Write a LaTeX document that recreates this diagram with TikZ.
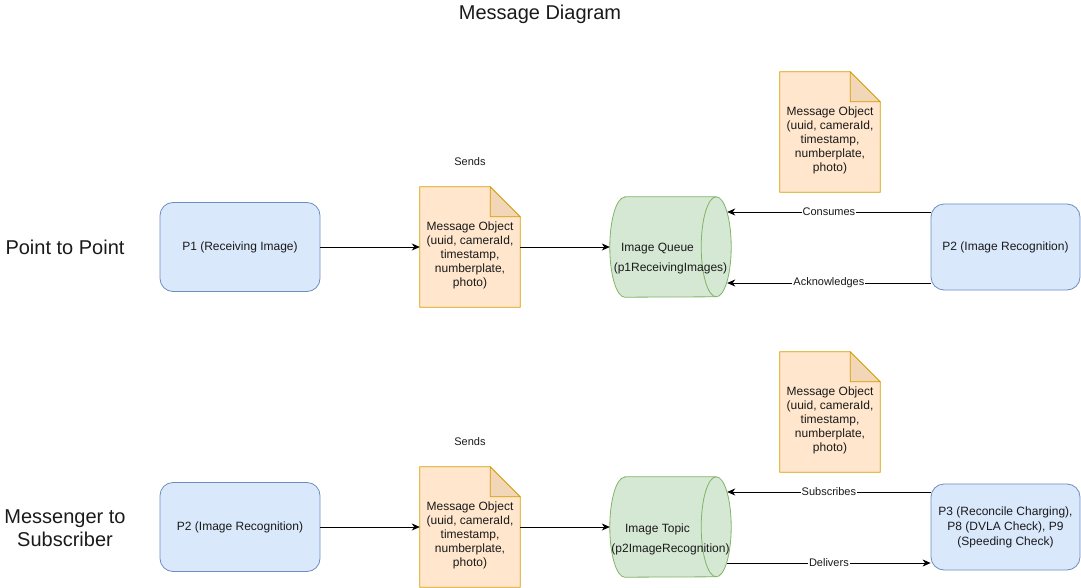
\documentclass[tikz,border=0pt]{standalone}
\usepackage{fontspec}
\setmainfont{Liberation Sans}
\usetikzlibrary{arrows.meta,backgrounds}
\definecolor{bfill}{HTML}{DAE8FC}
\definecolor{bline}{HTML}{6C8EBF}
\definecolor{ofill}{HTML}{FFE6CC}
\definecolor{oline}{HTML}{D79B00}
\definecolor{ofold}{HTML}{F2D6B8}
\definecolor{gfill}{HTML}{D5E8D4}
\definecolor{gline}{HTML}{82B366}
\definecolor{txt}{HTML}{1A1A1A}
\begin{document}
\begin{tikzpicture}[x=1pt,y=-1pt,
  every node/.style={text=txt},
  proc/.style={draw=bline, fill=bfill, rounded corners=13pt, minimum width=160pt, minimum height=89pt,
    align=center, inner sep=0pt, line width=0.8pt, font=\fontsize{12}{15}\selectfont},
  notebox/.style={minimum width=100pt, minimum height=120pt, inner sep=0pt},
  notetext/.style={align=center, inner sep=0pt, font=\fontsize{12}{14}\selectfont},
  cylbox/.style={minimum width=121pt, minimum height=100pt, inner sep=0pt, align=center,
    font=\fontsize{12}{14}\selectfont},
  arr/.style={line width=0.8pt, -{Stealth[length=8pt,width=7pt,inset=2.5pt]}},
  elabel/.style={fill=white, inner sep=1pt, font=\fontsize{11}{13}\selectfont},
  big/.style={align=center, font=\fontsize{20}{23}\selectfont},
  small/.style={font=\fontsize{11}{13}\selectfont}
]
\useasboundingbox (0,0) rectangle (1081,588);

\newcommand\drawnote[1]{%
  \filldraw[fill=ofill, draw=oline, line width=0.8pt] (#1.north west) -- ([xshift=-30pt]#1.north east)
    -- ([yshift=-30pt]#1.north east) -- (#1.south east) -- (#1.south west) -- cycle;
  \filldraw[fill=ofold, draw=oline, line width=0.8pt] ([xshift=-30pt]#1.north east)
    -- ([xshift=-30pt,yshift=-30pt]#1.north east) -- ([yshift=-30pt]#1.north east) -- cycle;}
\newcommand\drawcyl[1]{%
  \filldraw[fill=gfill, draw=gline, line width=0.8pt] ([xshift=15pt]#1.north west) -- ([xshift=-15pt]#1.north east)
    arc[start angle=-90, end angle=90, x radius=15, y radius=50]
    -- ([xshift=15pt]#1.south west)
    arc[start angle=90, end angle=270, x radius=15, y radius=50] -- cycle;
  \draw[gline, line width=0.8pt] ([xshift=-15pt]#1.north east)
    arc[start angle=-90, end angle=-270, x radius=15, y radius=50];}

% title and row labels
\node[font=\fontsize{20}{23}\selectfont] (title) at (540,14) {Message Diagram};
\node[big] (lab1) at (65,247) {Point to Point};
\node[big] (lab2) at (65,528) {Messenger to\\Subscriber};

% ---------- row 1 ----------
\node[proc] (p1) at (240,247) {P1 (Receiving Image)};
\node[notebox] (n1) at (470,247) {};
\node[cylbox] (c1) at (670.5,247) {};
\node[proc, minimum width=149pt, minimum height=86pt] (p2) at (1005.5,247) {P2 (Image Recognition)};
\node[notebox] (n2) at (830,132) {};
\node[small] (s1) at (470,162) {Sends};

\begin{scope}[on background layer]
  \drawnote{n1}
  \drawnote{n2}
  \drawcyl{c1}
\end{scope}
\node[notetext] (t1) at ([yshift=-8pt]n1.center) {Message Object\\(uuid, cameraId,\\timestamp,\\numberplate,\\photo)};
\node[notetext] (t2) at ([yshift=-8pt]n2.center) {Message Object\\(uuid, cameraId,\\timestamp,\\numberplate,\\photo)};
\node[cylbox, minimum width=0pt, minimum height=0pt] (ct1) at ([yshift=-12pt]c1.center) {Image Queue\hspace*{26pt}\\[6pt](p1ReceivingImages)};

\draw[arr] (p1.east) -- (n1.west);
\draw[arr] (n1.east) -- (c1.west);
\draw[arr] ([yshift=35pt]p2.west) -- node[elabel] {Consumes} ([xshift=-4pt,yshift=35pt]c1.east);
\draw[arr] ([yshift=-36pt]p2.west) -- node[elabel] {Acknowledges} ([xshift=-4pt,yshift=-36pt]c1.east);

% ---------- row 2 ----------
\node[proc] (p3) at (240,527) {P2 (Image Recognition)};
\node[notebox] (n3) at (470,527) {};
\node[cylbox] (c2) at (670.5,527) {};
\node[proc, minimum width=149pt, minimum height=86pt] (p4) at (1005.5,527) {P3 (Reconcile Charging),\\P8 (DVLA Check), P9\\(Speeding Check)};
\node[notebox] (n4) at (830,412) {};
\node[small] (s2) at (470,442) {Sends};

\begin{scope}[on background layer]
  \drawnote{n3}
  \drawnote{n4}
  \drawcyl{c2}
\end{scope}
\node[notetext] (t3) at ([yshift=-8pt]n3.center) {Message Object\\(uuid, cameraId,\\timestamp,\\numberplate,\\photo)};
\node[notetext] (t4) at ([yshift=-8pt]n4.center) {Message Object\\(uuid, cameraId,\\timestamp,\\numberplate,\\photo)};
\node[cylbox, minimum width=0pt, minimum height=0pt] (ct2) at ([yshift=-12pt]c2.center) {Image Topic\hspace*{26pt}\\[6pt](p2ImageRecognition)};

\draw[arr] (p3.east) -- (n3.west);
\draw[arr] (n3.east) -- (c2.west);
\draw[arr] ([yshift=35pt]p4.west) -- node[elabel] {Subscribes} ([xshift=-4pt,yshift=35pt]c2.east);
\draw[arr] ([xshift=-4pt,yshift=-36pt]c2.east) -- node[elabel] {Delivers} ([yshift=-36pt]p4.west);
\end{tikzpicture}
\end{document}
